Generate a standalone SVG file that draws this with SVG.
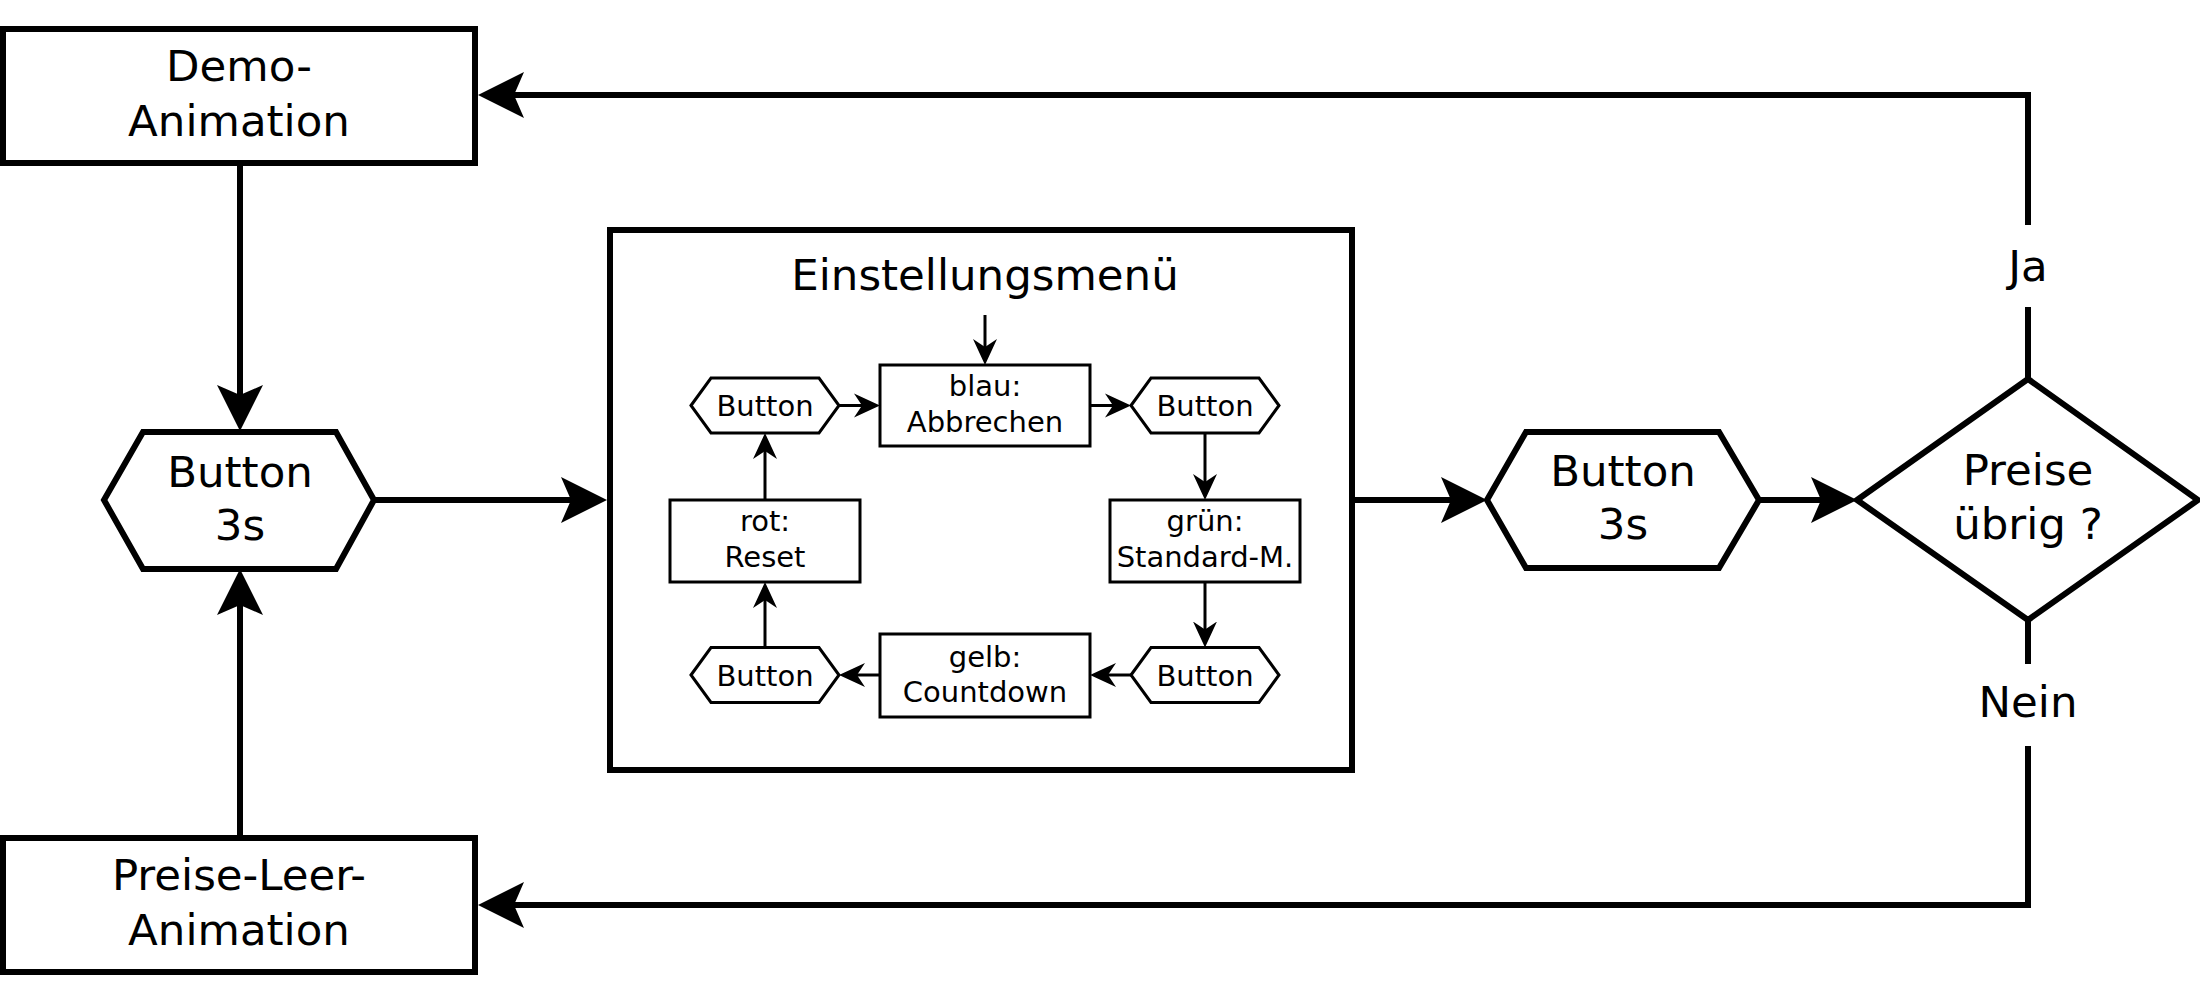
<svg xmlns="http://www.w3.org/2000/svg" width="2200" height="1000" viewBox="0 0 2200 1000">
<style>
  .big { fill: #fff; stroke: #000; stroke-width: 6; stroke-linejoin: miter; }
  .small { fill: #fff; stroke: #000; stroke-width: 3; stroke-linejoin: miter; }
  .cb { fill: none; stroke: #000; stroke-width: 6; stroke-linejoin: miter; }
  .cs { fill: none; stroke: #000; stroke-width: 3; }
  .tb { font-family: "DejaVu Sans", "Liberation Sans", sans-serif; font-size: 43.5px; text-anchor: middle; fill: #000; }
  .ts { font-family: "DejaVu Sans", "Liberation Sans", sans-serif; font-size: 29px; text-anchor: middle; fill: #000; }
</style>
<defs>
  <marker id="ab" viewBox="0 -25 50 50" markerWidth="50" markerHeight="50" refX="14" refY="0" orient="auto" markerUnits="userSpaceOnUse">
    <path d="M0,-23 L46,0 L0,23 L10,0 Z" fill="#000"/>
  </marker>
  <marker id="as" viewBox="0 -15 30 30" markerWidth="30" markerHeight="30" refX="11" refY="0" orient="auto" markerUnits="userSpaceOnUse">
    <path d="M0,-12 L26,0 L0,12 L8,0 Z" fill="#000"/>
  </marker>
</defs>
<rect width="2200" height="1000" fill="#fff"/>

<g id="demo">
  <rect class="big" x="3" y="29" width="472" height="134"/>
  <text class="tb" x="239" y="81">Demo-</text>
  <text class="tb" x="239" y="136">Animation</text>
</g>

<g id="preiseleer">
  <rect class="big" x="3" y="838" width="472" height="134"/>
  <text class="tb" x="239" y="890">Preise-Leer-</text>
  <text class="tb" x="239" y="945">Animation</text>
</g>

<g id="button1">
  <polygon class="big" points="104,500 143,432 336,432 374,500 336,569 143,569"/>
  <text class="tb" x="240" y="487">Button</text>
  <text class="tb" x="240" y="540">3s</text>
</g>

<g id="menu">
  <rect class="big" x="610" y="230" width="742" height="540"/>
  <text class="tb" x="985" y="290">Einstellungsmenü</text>
</g>

<g id="blau">
  <rect class="small" x="880" y="365" width="210" height="81"/>
  <text class="ts" x="985" y="396">blau:</text>
  <text class="ts" x="985" y="432">Abbrechen</text>
</g>
<g id="btn-tr">
  <polygon class="small" points="1131,405.5 1151,378 1259,378 1279,405.5 1259,433 1151,433"/>
  <text class="ts" x="1205" y="416">Button</text>
</g>
<g id="gruen">
  <rect class="small" x="1110" y="500" width="190" height="82"/>
  <text class="ts" x="1205" y="531">grün:</text>
  <text class="ts" x="1205" y="567">Standard-M.</text>
</g>
<g id="btn-br">
  <polygon class="small" points="1131,675 1151,647.5 1259,647.5 1279,675 1259,702.5 1151,702.5"/>
  <text class="ts" x="1205" y="685.5">Button</text>
</g>
<g id="gelb">
  <rect class="small" x="880" y="634" width="210" height="83"/>
  <text class="ts" x="985" y="667">gelb:</text>
  <text class="ts" x="985" y="702">Countdown</text>
</g>
<g id="btn-bl">
  <polygon class="small" points="691,675 711,647.5 819,647.5 839,675 819,702.5 711,702.5"/>
  <text class="ts" x="765" y="685.5">Button</text>
</g>
<g id="rot">
  <rect class="small" x="670" y="500" width="190" height="82"/>
  <text class="ts" x="765" y="531">rot:</text>
  <text class="ts" x="765" y="567">Reset</text>
</g>
<g id="btn-tl">
  <polygon class="small" points="691,405.5 711,378 819,378 839,405.5 819,433 711,433"/>
  <text class="ts" x="765" y="416">Button</text>
</g>

<g id="button2">
  <polygon class="big" points="1487,500 1526,432 1719,432 1759,500 1719,568 1526,568"/>
  <text class="tb" x="1623" y="486">Button</text>
  <text class="tb" x="1623" y="539">3s</text>
</g>

<g id="decision">
  <polygon class="big" points="1857,500 2028,379 2198,500 2028,620"/>
  <text class="tb" x="2028" y="485">Preise</text>
  <text class="tb" x="2028" y="539">übrig ?</text>
</g>

<g id="labels">
  <text class="tb" x="2028" y="281">Ja</text>
  <text class="tb" x="2028" y="717">Nein</text>
</g>

<g id="connectors">
  <path class="cb" d="M240,163 V399" marker-end="url(#ab)"/>
  <path class="cb" d="M240,838 V601" marker-end="url(#ab)"/>
  <path class="cb" d="M374,500 H575" marker-end="url(#ab)"/>
  <path class="cb" d="M1353,500 H1455" marker-end="url(#ab)"/>
  <path class="cb" d="M1759,500 H1825" marker-end="url(#ab)"/>
  <path class="cb" d="M2028,379 V307"/>
  <path class="cb" d="M2028,225 V95 H510" marker-end="url(#ab)"/>
  <path class="cb" d="M2028,620 V664"/>
  <path class="cb" d="M2028,746 V905 H510" marker-end="url(#ab)"/>

  <path class="cs" d="M985,315 V350" marker-end="url(#as)"/>
  <path class="cs" d="M839,405.5 H865" marker-end="url(#as)"/>
  <path class="cs" d="M1090,405.5 H1116" marker-end="url(#as)"/>
  <path class="cs" d="M1205,433 V485" marker-end="url(#as)"/>
  <path class="cs" d="M1205,582 V632.5" marker-end="url(#as)"/>
  <path class="cs" d="M1131,675 H1105" marker-end="url(#as)"/>
  <path class="cs" d="M880,675 H854" marker-end="url(#as)"/>
  <path class="cs" d="M765,647.5 V597" marker-end="url(#as)"/>
  <path class="cs" d="M765,500 V448" marker-end="url(#as)"/>
</g>
</svg>
